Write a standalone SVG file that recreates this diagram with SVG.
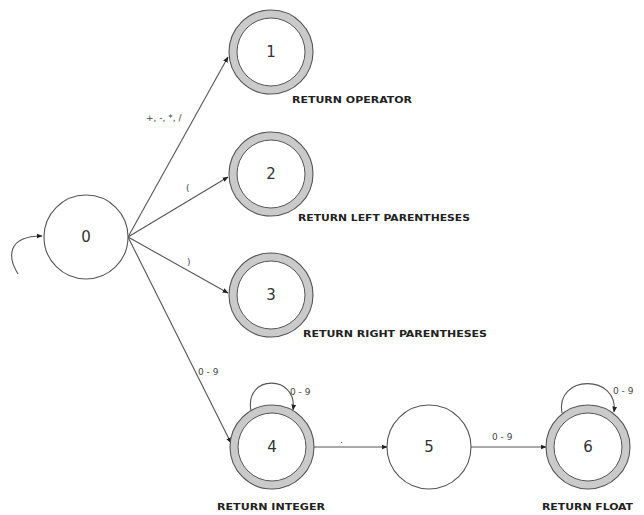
<svg xmlns="http://www.w3.org/2000/svg" width="644" height="515" viewBox="0 0 644 515">
<defs>
<marker id="arr" viewBox="0 0 10 10" refX="9" refY="5" markerWidth="6" markerHeight="6" orient="auto" markerUnits="userSpaceOnUse">
<path d="M0,1 L10,5 L0,9 z" fill="#222"/>
</marker>
<style>
.edge{fill:none;stroke:#555;stroke-width:1.1;marker-end:url(#arr)}
.st{fill:#fff;stroke:#555;stroke-width:1.1}
.ring{fill:#cacaca;stroke:#555;stroke-width:1.1}
.inner{fill:#fff;stroke:#555;stroke-width:1}
.num{font-family:"DejaVu Sans",sans-serif;font-size:15px;fill:#333;text-anchor:middle;dominant-baseline:central}
.lbl{font-family:"DejaVu Sans Condensed","DejaVu Sans",sans-serif;font-weight:bold;font-size:8.5px;fill:#222}
.el{font-family:"DejaVu Sans",sans-serif;font-size:9px;fill:#444}
</style>
</defs>
<rect width="644" height="515" fill="#fff"/>
<g id="connectors">
<path class="edge" d="M18,274 C8,258 6,236 42,236"/>
<path class="edge" d="M128,237 L228,57"/>
<path class="edge" d="M128,237 L228,177"/>
<path class="edge" d="M128,237 L228,293"/>
<path class="edge" d="M128,237 L231,443"/>
<path class="edge" d="M251,411 C244,374 298,374 293,410"/>
<path class="edge" d="M314,447 L387,447"/>
<path class="edge" d="M471,447 L546,447"/>
<path class="edge" d="M562,413 C555,374 619,374 614,412"/>
<text class="el" x="146" y="121">+, -, *, /</text>
<text class="el" x="186" y="191">(</text>
<text class="el" x="187" y="265">)</text>
<text class="el" x="198" y="375">0 - 9</text>
<text class="el" x="290" y="395">0 - 9</text>
<text class="el" x="340" y="443">.</text>
<text class="el" x="492" y="440">0 - 9</text>
<text class="el" x="613" y="394">0 - 9</text>
</g>
<g id="node0">
<circle class="st" cx="86" cy="237" r="42"/>
<text class="num" x="86" y="237">0</text>
</g>
<g id="node1">
<circle class="ring" cx="271" cy="52" r="42"/>
<circle class="inner" cx="271" cy="52" r="34"/>
<text class="num" x="271" y="52">1</text>
<text class="lbl" x="292" y="103" textLength="120" lengthAdjust="spacingAndGlyphs">RETURN OPERATOR</text>
</g>
<g id="node2">
<circle class="ring" cx="271" cy="174" r="42"/>
<circle class="inner" cx="271" cy="174" r="34"/>
<text class="num" x="271" y="174">2</text>
<text class="lbl" x="298" y="221" textLength="172" lengthAdjust="spacingAndGlyphs">RETURN LEFT PARENTHESES</text>
</g>
<g id="node3">
<circle class="ring" cx="271" cy="295" r="42"/>
<circle class="inner" cx="271" cy="295" r="34"/>
<text class="num" x="271" y="295">3</text>
<text class="lbl" x="303" y="337" textLength="184" lengthAdjust="spacingAndGlyphs">RETURN RIGHT PARENTHESES</text>
</g>
<g id="node4">
<circle class="ring" cx="272" cy="447" r="42"/>
<circle class="inner" cx="272" cy="447" r="34"/>
<text class="num" x="272" y="447">4</text>
<text class="lbl" x="217" y="510" textLength="108" lengthAdjust="spacingAndGlyphs">RETURN INTEGER</text>
</g>
<g id="node5">
<circle class="st" cx="429" cy="447" r="42"/>
<text class="num" x="429" y="447">5</text>
</g>
<g id="node6">
<circle class="ring" cx="588" cy="447" r="42"/>
<circle class="inner" cx="588" cy="447" r="34"/>
<text class="num" x="588" y="447">6</text>
<text class="lbl" x="542" y="510" textLength="91" lengthAdjust="spacingAndGlyphs">RETURN FLOAT</text>
</g>
</svg>
